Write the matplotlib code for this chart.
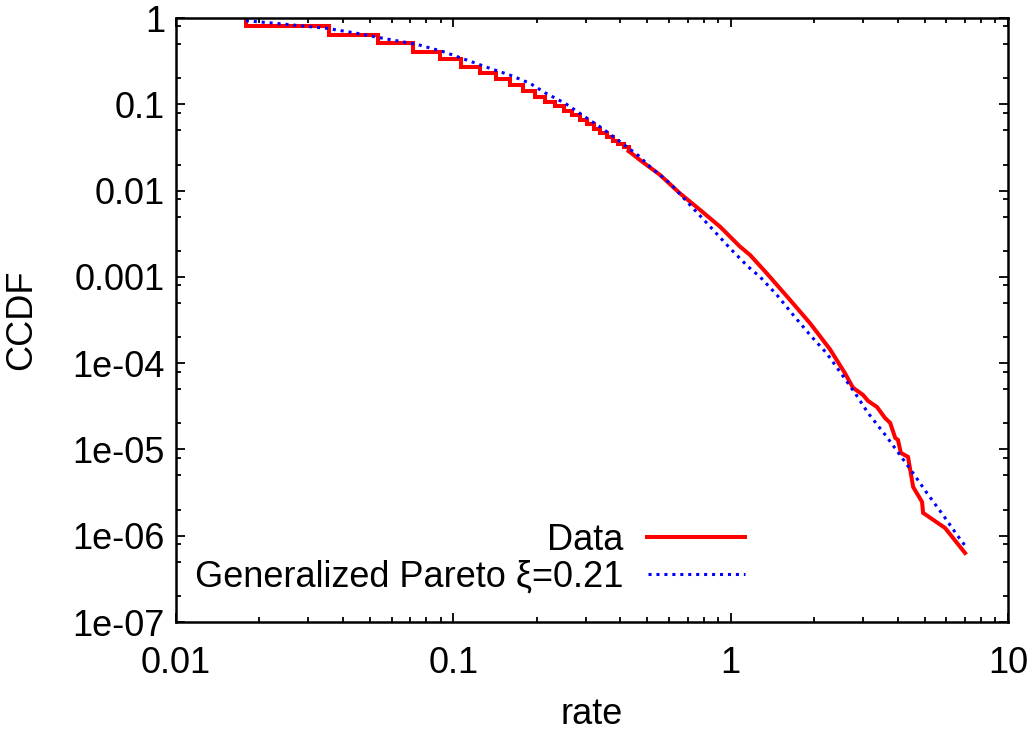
import matplotlib
matplotlib.use("Agg")
import matplotlib.pyplot as plt
from matplotlib.ticker import LogLocator, NullFormatter, FixedLocator, FixedFormatter

# ---- Data ----
# Empirical CCDF, staircase part (low rates)
step_rate = [0.01786, 0.01786, 0.0357, 0.0536, 0.0714, 0.0893, 0.107, 0.125,
             0.1429, 0.1607, 0.1786, 0.1964, 0.2143, 0.232, 0.25, 0.268,
             0.2857, 0.3036, 0.3214, 0.339, 0.357, 0.375, 0.393, 0.411, 0.4286]
step_ccdf = [1.0, 0.808, 0.635, 0.509, 0.407, 0.332, 0.273, 0.232,
             0.195, 0.166, 0.144, 0.1225, 0.1077, 0.0948, 0.0843, 0.0745,
             0.0657, 0.0586, 0.0524, 0.0469, 0.0421, 0.0380, 0.0344, 0.0316, 0.0287]
# Empirical CCDF, continuous part (higher rates)
tail_rate = [0.4286, 0.471, 0.556, 0.656, 0.776, 0.916, 1.081, 1.175, 1.349,
             1.637, 1.933, 2.28, 2.58, 2.76, 3.00, 3.13, 3.37, 3.60, 3.76,
             3.92, 4.01, 4.11, 4.36, 4.55, 4.90, 4.94, 5.93, 7.00]
tail_ccdf = [0.0287, 0.0226, 0.0152, 0.0093, 0.00596, 0.00381, 0.00224, 0.00179, 0.0011,
             5.4e-4, 2.9e-4, 1.45e-4, 7.7e-5, 5.2e-5, 4.28e-5, 3.65e-5, 3.1e-5, 2.32e-5, 2.03e-5,
             1.36e-5, 1.29e-5, 9.1e-6, 8.2e-6, 3.67e-6, 2.46e-6, 1.84e-6, 1.23e-6, 6.3e-7]
# Generalized Pareto fit
fit_rate = [0.01786, 0.0228, 0.0287, 0.0349, 0.0449, 0.0575, 0.0738, 0.0920,
            0.1117, 0.1355, 0.160, 0.189, 0.214, 0.253, 0.294, 0.344, 0.399,
            0.465, 0.512, 0.604, 0.714, 0.844, 0.995, 1.156, 1.276, 1.466,
            1.683, 1.933, 2.22, 2.55, 2.81, 3.13, 3.66, 4.08, 4.55, 5.11,
            5.83, 6.55, 7.06]
fit_ccdf = [0.93, 0.868, 0.808, 0.760, 0.665, 0.571, 0.496, 0.407,
            0.326, 0.261, 0.218, 0.175, 0.136, 0.1026, 0.0738, 0.0527, 0.0369,
            0.0254, 0.0189, 0.01214, 0.0068, 0.00381, 0.00214, 0.00131, 0.00100, 6.2e-4,
            3.6e-4, 2.12e-4, 1.3e-4, 6.97e-5, 4.48e-5, 2.64e-5, 1.39e-5, 8.6e-6, 5.3e-6, 3.1e-6,
            1.74e-6, 1.02e-6, 7.4e-7]

x_ticks = [0.01, 0.1, 1, 10]
x_ticklabels = ["0.01", "0.1", "1", "10"]
y_ticks = [1e-7, 1e-6, 1e-5, 1e-4, 1e-3, 1e-2, 1e-1, 1]
y_ticklabels = ["1e-07", "1e-06", "1e-05", "1e-04", "0.001", "0.01", "0.1", "1"]

# ---- Figure ----
plt.rcParams['font.family'] = ['Liberation Sans', 'DejaVu Sans']
FS = 26
fig = plt.figure(figsize=(10.30, 7.31), dpi=100)
ax = fig.add_axes([176/1030, 1-622/731, (1008-176)/1030, (622-18)/731])

red = '#ff0000'
blue = '#0000ff'
ax.plot(step_rate, step_ccdf, drawstyle='steps-post', color=red, lw=2.9,
        solid_joinstyle='miter', label='Data')
ax.plot(tail_rate, tail_ccdf, color=red, lw=2.9, solid_joinstyle='miter')
ax.plot(fit_rate, fit_ccdf, color=blue, lw=2.2, linestyle=(0, (1, 1.6)),
        dash_capstyle='butt', label='Generalized Pareto ξ=0.21')

ax.set_xscale('log')
ax.set_yscale('log')
ax.set_xlim(0.01, 10)
ax.set_ylim(1e-7, 1)

ax.xaxis.set_major_locator(FixedLocator(x_ticks))
ax.xaxis.set_major_formatter(FixedFormatter(x_ticklabels))
ax.xaxis.set_minor_locator(LogLocator(base=10, subs=[2, 3, 4, 5, 6, 7, 8, 9]))
ax.xaxis.set_minor_formatter(NullFormatter())
ax.yaxis.set_major_locator(FixedLocator(y_ticks))
ax.yaxis.set_major_formatter(FixedFormatter(y_ticklabels))
ax.yaxis.set_minor_locator(LogLocator(base=10, subs=[2, 5, 8]))
ax.yaxis.set_minor_formatter(NullFormatter())

ax.tick_params(which='both', direction='in', top=True, right=True,
               labelsize=FS, width=1.3, colors='black')
ax.tick_params(which='major', length=6.5)
ax.tick_params(which='minor', length=3.6)
ax.tick_params(axis='x', which='major', pad=17)
ax.tick_params(axis='y', which='major', pad=8)
for s in ax.spines.values():
    s.set_linewidth(1.8)

ax.set_xlabel('rate', fontsize=FS, labelpad=12)
ax.set_ylabel('CCDF', fontsize=FS, labelpad=24)

ax.legend(loc='lower right', bbox_to_anchor=((745-176)/832, 0.045),
          frameon=False, markerfirst=False, fontsize=FS,
          handlelength=2.7, handletextpad=0.66, labelspacing=0.05,
          borderpad=0, borderaxespad=0)

fig.savefig('out.png', dpi=100)
